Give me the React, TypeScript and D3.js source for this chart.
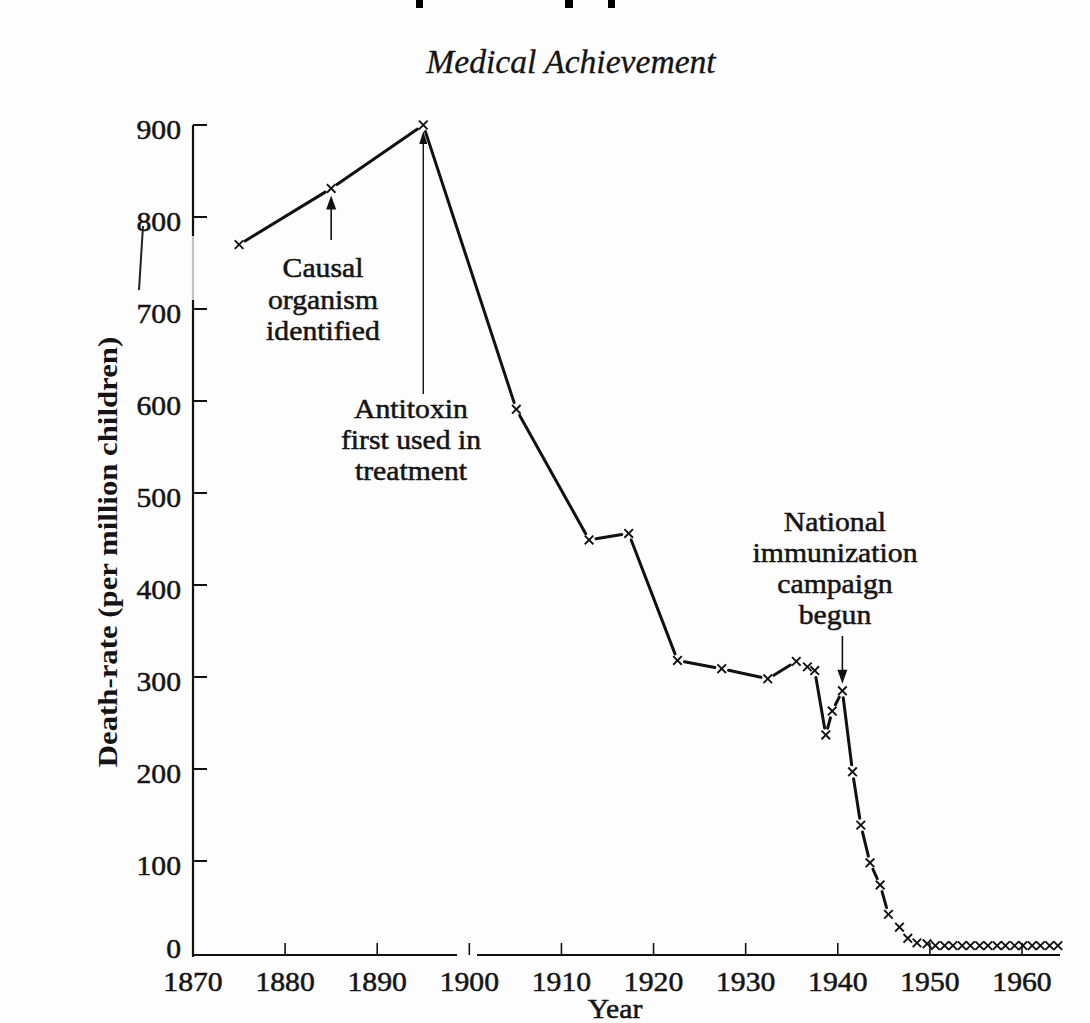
import React from "react";
import * as d3 from "d3";

// ---- data ----
const years: number[] = [
  1875, 1885, 1895, 1905.1, 1913, 1917.3, 1922.6, 1927.4, 1932.4,
  1935.5, 1936.7, 1937.5, 1938.7, 1939.4, 1940.5, 1941.6, 1942.5, 1943.5,
  1944.6, 1945.5, 1946.7, 1947.6, 1948.6, 1949.7,
  1950.6, 1951.6, 1952.5, 1953.5, 1954.4, 1955.4, 1956.3, 1957.3, 1958.2,
  1959.2, 1960.1, 1961.1, 1962.0, 1963.0, 1963.9,
];
const deathRates: number[] = [
  770, 831, 900, 591, 449, 456, 318, 309, 298,
  317, 311, 307, 237, 263, 285, 197, 139, 98,
  74, 42, 28, 16, 11, 10,
  8, 8, 8, 8, 8, 8, 8, 8, 8,
  8, 8, 8, 8, 8, 8,
];
const yTicks: number[] = [0, 100, 200, 300, 400, 500, 600, 700, 800, 900];
const xTicks: number[] = [1870, 1880, 1890, 1900, 1910, 1920, 1930, 1940, 1950, 1960];

const titleText = "Medical Achievement";
const xLabel = "Year";
const yLabel = "Death-rate (per million children)";
const causalLines = ["Causal", "organism", "identified"];
const antitoxinLines = ["Antitoxin", "first used in", "treatment"];
const nationalLines = ["National", "immunization", "campaign", "begun"];
const causalYear = 1885;
const antitoxinYear = 1895;
const nationalYear = 1940.5;

// ---- layout ----
const W = 1090;
const H = 1023;
const FONT = "'Liberation Serif', 'Times New Roman', serif";
const INK = "#141414";

const x = d3.scaleLinear().domain([1870, 1960]).range([193, 1022]);
const y = d3.scaleLinear().domain([0, 900]).range([953, 125]);
const axisY = 955;

function T({
  cx, cy, children, size = 27, anchor = "middle", italic = false, sx = 1.1, sy = 1.03, sw = 0.5,
}: any) {
  return (
    <text
      transform={`translate(${cx},${cy}) scale(${sx},${sy})`}
      fontFamily={FONT}
      fontSize={size}
      textAnchor={anchor}
      fontStyle={italic ? "italic" : "normal"}
      fill={INK}
      stroke={INK}
      strokeWidth={sw}
    >
      {children}
    </text>
  );
}

export default function App() {
  const pts = years.map((yr, i) => [x(yr), y(deathRates[i])] as [number, number]);
  const gap = 7;
  const segs: [number, number, number, number][] = [];
  for (let i = 0; i < pts.length - 1; i++) {
    const [x1, y1] = pts[i];
    const [x2, y2] = pts[i + 1];
    const dx = x2 - x1, dy = y2 - y1;
    const len = Math.hypot(dx, dy);
    if (len - 2 * gap < 4) continue;
    const ux = dx / len, uy = dy / len;
    segs.push([x1 + ux * gap, y1 + uy * gap, x2 - ux * gap, y2 - uy * gap]);
  }
  const cross = 4.3;

  const cX = x(causalYear);
  const cTip = y(deathRates[years.indexOf(causalYear)]) + 7;
  const aX = x(antitoxinYear);
  const aTip = y(deathRates[years.indexOf(antitoxinYear)]) + 6;
  const nX = x(nationalYear);
  const nTip = y(deathRates[years.indexOf(nationalYear)]) - 7;

  const arrowHead = (tx: number, ty: number, dir: number, w = 5, l = 14) =>
    `M${tx},${ty} L${tx - w},${ty + dir * l} L${tx + w},${ty + dir * l} Z`;

  return (
    <div style={{ position: "absolute", left: 0, top: 0 }}>
      <svg width={W} height={H} viewBox={`0 0 ${W} ${H}`} style={{ display: "block", background: "#fff" }}>
        <rect x={0} y={0} width={W} height={H} fill="#fdfdfd" />
        {/* scan artifacts at top edge */}
        <rect x={416} y={0} width={7} height={8} fill="#000" />
        <rect x={565} y={0} width={8} height={8} fill="#000" />
        <rect x={608} y={0} width={7} height={8} fill="#000" />
        <line x1={143} y1={226} x2={139} y2={290} stroke="#222" strokeWidth={2} />

        {/* title */}
        <T cx={571} cy={73} size={32} italic sx={1.05} sy={1.05} sw={0.3}>{titleText}</T>

        {/* y axis */}
        <line x1={193} y1={y(900)} x2={193} y2={axisY + 2} stroke="#111" strokeWidth={2.2} />
        {yTicks.map((t) => (
          <g key={t}>
            {t > 0 && <line x1={193} x2={207} y1={y(t)} y2={y(t)} stroke="#111" strokeWidth={2} />}
            <T cx={181} cy={Math.min(y(t) + 14, 958)} size={27} anchor="end">{String(t)}</T>
          </g>
        ))}
        <g transform={`translate(117,552) rotate(-90) scale(1.14,1)`}>
          <text fontFamily={FONT} fontSize={27} textAnchor="middle" fill={INK} fontWeight="bold">
            {yLabel}
          </text>
        </g>
        {/* faint stretch of the scanned y axis */}
        <rect x={189} y={236} width={8} height={64} fill="#fdfdfd" opacity={0.75} />

        {/* x axis */}
        <line x1={192} x2={1060} y1={axisY} y2={axisY} stroke="#111" strokeWidth={2.2} />
        <rect x={457} y={951} width={20} height={9} fill="#fdfdfd" />
        {xTicks.map((t) => (
          <g key={t}>
            {t > 1870 && <line x1={x(t)} x2={x(t)} y1={axisY} y2={axisY - 12} stroke="#111" strokeWidth={1.6} />}
            <T cx={x(t)} cy={991} size={27}>{String(t)}</T>
          </g>
        ))}
        <T cx={615} cy={1018} size={27}>{xLabel}</T>

        {/* data line */}
        {segs.map((s, i) => (
          <line key={i} x1={s[0]} y1={s[1]} x2={s[2]} y2={s[3]} stroke="#111" strokeWidth={3} strokeLinecap="round" />
        ))}
        {pts.map(([px, py], i) => (
          <path
            key={i}
            d={`M${px - cross},${py - cross}L${px + cross},${py + cross}M${px + cross},${py - cross}L${px - cross},${py + cross}`}
            stroke="#111"
            strokeWidth={1.9}
          />
        ))}

        {/* annotations */}
        <line x1={cX} x2={cX} y1={cTip + 10} y2={240} stroke="#111" strokeWidth={1.6} />
        <path d={arrowHead(cX, cTip, 1)} fill="#111" />
        {causalLines.map((s, i) => (
          <T key={s} cx={323} cy={277 + i * 31.5}>{s}</T>
        ))}

        <line x1={aX} x2={aX} y1={aTip + 10} y2={394} stroke="#111" strokeWidth={1.4} />
        <path d={arrowHead(aX, aTip, 1, 4, 13)} fill="#111" />
        {antitoxinLines.map((s, i) => (
          <T key={s} cx={411} cy={418 + i * 31}>{s}</T>
        ))}

        <line x1={nX} x2={nX} y1={636} y2={nTip - 10} stroke="#111" strokeWidth={1.6} />
        <path d={arrowHead(nX, nTip, -1)} fill="#111" />
        {nationalLines.map((s, i) => (
          <T key={s} cx={835} cy={531 + i * 31}>{s}</T>
        ))}
      </svg>
    </div>
  );
}
